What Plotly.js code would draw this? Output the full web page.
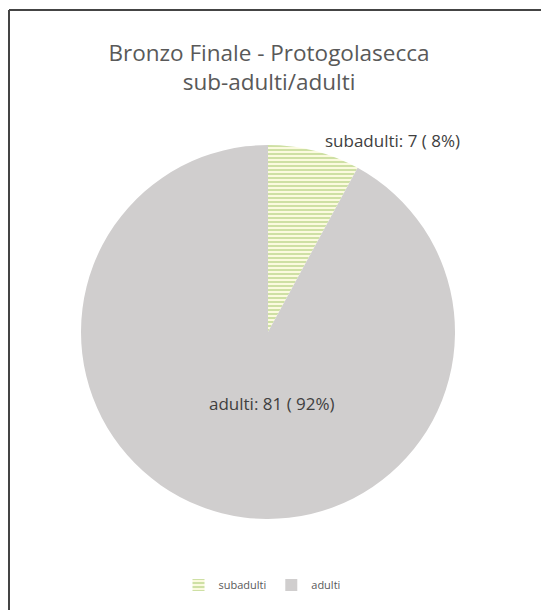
<!DOCTYPE html>
<html>
<head>
<meta charset="utf-8">
<script src="https://cdn.plot.ly/plotly-3.0.1.min.js"></script>
<style>
html,body{margin:0;padding:0;background:#fff;}
#chart{width:541px;height:610px;}
</style>
</head>
<body>
<div id="chart"></div>
<script>
const categories = ["subadulti", "adulti"];
const counts = [7, 81];
const titleText = "Bronzo Finale - Protogolasecca<br>sub-adulti/adulti";

const total = counts.reduce((a, b) => a + b, 0);
const labelText = categories.map((c, i) => c + ": " + counts[i] + " ( " + Math.round(counts[i] / total * 100) + "%)");

const W = 541, H = 610;
const cx = 268, cy = 332, r = 187;

const trace = {
  type: "pie",
  labels: categories,
  values: counts,
  sort: false,
  direction: "clockwise",
  rotation: 0,
  textinfo: "none",
  hoverinfo: "label+value+percent",
  domain: {x: [(cx - r) / W, (cx + r) / W], y: [1 - (cy + r) / H, 1 - (cy - r) / H]},
  marker: {
    colors: ["#fbfadf", "#d0cece"],
    pattern: {shape: ["-", ""], fgcolor: ["#c9de9e", "#d0cece"], bgcolor: ["#fbfadf", "#d0cece"], size: 4, solidity: 0.45},
    line: {width: 0}
  }
};

const layout = {
  width: W, height: H,
  margin: {l: 0, r: 0, t: 0, b: 0},
  paper_bgcolor: "#ffffff",
  font: {family: "Open Sans, sans-serif", color: "#595959"},
  title: {
    text: titleText,
    font: {size: 22.5, color: "#595959", family: "Open Sans, sans-serif"},
    x: 269 / W, xanchor: "center",
    y: 1 - 61 / H, yanchor: "middle"
  },
  showlegend: true,
  legend: {
    orientation: "h",
    x: 262 / W, xanchor: "center",
    y: 1 - 585 / H, yanchor: "middle",
    font: {size: 11, color: "#595959"},
    itemwidth: 30,
    traceorder: "normal"
  },
  annotations: [
    {text: labelText[0], xref: "paper", yref: "paper", x: 392 / W, y: 1 - 140 / H, xanchor: "center", yanchor: "middle", showarrow: false, font: {size: 17, color: "#404040"}},
    {text: labelText[1], xref: "paper", yref: "paper", x: 272 / W, y: 1 - 403 / H, xanchor: "center", yanchor: "middle", showarrow: false, font: {size: 17, color: "#404040"}}
  ],
  shapes: [
    {type: "line", xref: "paper", yref: "paper", x0: 9 / W, x1: 1, y0: 1 - 10 / H, y1: 1 - 10 / H, line: {color: "#444444", width: 2}},
    {type: "line", xref: "paper", yref: "paper", x0: 9 / W, x1: 9 / W, y0: 1 - 10 / H, y1: 0, line: {color: "#444444", width: 2}}
  ]
};

Plotly.newPlot("chart", [trace], layout, {displayModeBar: false, staticPlot: true});
</script>
</body>
</html>
